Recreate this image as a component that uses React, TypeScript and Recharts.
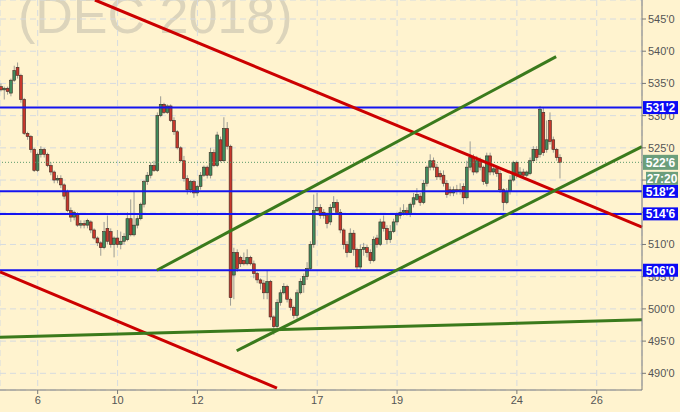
import React from 'react'
import { ComposedChart, Bar, XAxis, YAxis, CartesianGrid, ReferenceLine } from 'recharts'

// hourly bars, [open, high, low, close] in cents
const bars: [number, number, number, number][] = [
  [534.5, 535.0, 533.75, 534.0], [534.0, 534.5, 532.5, 534.25], [534.25, 534.5, 533.25, 533.75],
  [533.5, 535.75, 533.0, 535.5], [535.5, 537.75, 535.25, 537.0], [537.5, 538.25, 535.75, 536.25],
  [536.25, 536.5, 532.0, 532.5], [532.5, 532.75, 527.0, 527.25], [527.25, 527.5, 526.25, 526.75],
  [526.75, 527.0, 524.25, 524.75], [524.75, 525.0, 521.25, 521.5], [521.5, 524.25, 521.25, 524.0],
  [524.0, 525.25, 523.5, 524.75], [524.75, 525.0, 523.5, 524.0], [524.0, 524.25, 522.0, 522.25],
  [522.25, 522.75, 520.75, 521.25], [521.25, 521.5, 519.5, 520.0], [520.0, 520.75, 519.5, 520.25],
  [520.25, 520.75, 518.75, 519.25], [519.25, 519.5, 517.0, 517.5], [518.25, 518.5, 515.0, 515.25],
  [515.25, 515.75, 513.5, 514.25], [514.25, 515.25, 513.75, 515.0], [514.75, 515.0, 512.75, 513.0],
  [513.0, 513.75, 512.5, 513.25], [513.25, 513.75, 512.5, 513.0], [513.0, 514.0, 512.5, 513.75],
  [513.5, 513.75, 511.75, 512.25], [512.25, 512.5, 510.75, 511.0], [511.0, 511.25, 509.75, 510.25],
  [510.25, 510.5, 508.25, 509.5], [509.5, 513.5, 509.25, 512.0], [512.5, 514.5, 510.0, 510.5],
  [512.0, 512.5, 509.5, 510.0], [510.0, 511.25, 508.0, 511.0], [511.0, 512.25, 509.5, 510.0],
  [510.0, 512.0, 509.25, 510.5], [510.5, 511.75, 510.0, 511.25], [510.75, 515.0, 510.5, 514.0],
  [514.0, 517.0, 511.25, 511.5], [511.5, 518.25, 511.25, 513.0], [513.0, 514.5, 512.5, 514.0],
  [514.0, 516.5, 513.75, 516.25], [516.25, 520.0, 515.75, 519.75], [519.75, 521.25, 519.25, 520.75],
  [520.75, 522.75, 520.25, 522.25], [522.25, 523.0, 521.25, 521.5], [521.5, 530.5, 521.25, 530.0],
  [530.0, 533.0, 529.75, 531.75], [531.75, 532.0, 530.25, 530.5], [530.5, 531.75, 530.25, 531.5],
  [531.5, 531.75, 529.0, 529.25], [529.25, 529.75, 527.0, 527.5], [527.5, 527.75, 524.75, 525.0],
  [525.0, 525.25, 522.75, 523.0], [523.0, 523.75, 519.75, 520.25], [520.25, 520.75, 517.75, 518.5],
  [518.5, 520.0, 518.0, 519.75], [519.75, 520.0, 517.25, 518.0], [518.0, 519.25, 517.5, 519.0],
  [519.0, 521.25, 518.5, 520.75], [520.75, 522.25, 520.5, 522.0], [522.0, 522.25, 520.25, 520.75],
  [520.75, 525.0, 520.25, 524.25], [524.25, 524.75, 522.0, 522.25], [522.25, 527.5, 522.0, 527.0],
  [526.25, 526.75, 522.75, 523.0], [523.0, 529.75, 522.75, 528.0], [528.0, 529.0, 524.75, 525.25],
  [525.25, 525.5, 500.5, 501.75], [505.25, 509.5, 501.5, 508.75], [508.75, 509.25, 505.75, 506.25],
  [508.0, 508.25, 506.5, 507.0], [507.5, 508.75, 506.75, 507.0], [507.0, 509.25, 506.75, 508.0],
  [508.0, 508.25, 506.75, 507.0], [507.0, 507.5, 504.75, 505.5], [505.5, 505.75, 504.0, 504.5],
  [504.5, 504.75, 503.0, 504.0], [504.0, 504.5, 501.5, 502.5], [502.5, 506.0, 501.5, 504.25],
  [504.25, 504.5, 498.25, 498.75], [498.75, 499.0, 496.0, 497.25], [497.25, 501.5, 496.75, 501.0],
  [501.0, 503.0, 500.5, 502.5], [502.5, 504.0, 502.25, 503.5], [503.5, 503.75, 501.0, 501.5],
  [501.5, 501.75, 499.75, 500.25], [500.25, 500.5, 498.5, 499.0], [499.0, 503.0, 498.5, 502.5],
  [502.5, 504.75, 502.25, 504.25], [503.75, 505.5, 502.5, 505.0], [505.0, 507.25, 504.5, 506.25],
  [506.25, 510.5, 506.0, 510.0], [510.0, 517.75, 509.5, 515.25], [515.25, 518.0, 515.0, 515.75],
  [515.75, 516.25, 514.0, 514.5], [515.0, 515.5, 514.0, 514.5], [514.5, 515.0, 512.5, 513.25],
  [513.5, 516.25, 513.0, 515.75], [515.75, 517.5, 515.25, 516.5], [516.5, 517.0, 514.75, 515.0],
  [515.0, 515.5, 511.75, 512.25], [512.25, 512.5, 509.25, 510.0], [510.0, 510.5, 508.0, 508.75],
  [508.75, 512.5, 508.75, 511.75], [511.75, 512.25, 508.25, 509.25], [509.25, 509.5, 506.0, 506.5],
  [506.5, 510.0, 506.0, 509.25], [509.25, 510.25, 508.25, 509.5], [509.5, 510.0, 508.0, 508.75],
  [508.75, 509.25, 507.0, 507.5], [507.5, 511.25, 507.25, 510.75], [511.0, 511.5, 509.5, 510.0],
  [510.0, 514.0, 509.75, 513.5], [513.5, 514.5, 512.0, 512.5], [512.5, 513.0, 510.0, 510.75],
  [510.75, 513.0, 510.25, 512.0], [512.0, 514.0, 511.75, 513.5], [513.5, 515.0, 513.0, 514.5],
  [514.5, 515.75, 514.0, 515.0], [515.0, 516.25, 514.5, 515.25], [515.25, 515.75, 514.5, 514.75],
  [514.75, 516.5, 514.25, 516.25], [516.25, 518.0, 515.75, 517.25], [517.0, 518.75, 516.75, 517.75],
  [517.5, 518.0, 516.0, 516.5], [516.5, 520.0, 516.25, 519.5], [519.5, 522.25, 519.0, 522.0],
  [522.0, 524.0, 521.5, 523.0], [523.0, 523.5, 521.5, 522.0], [522.0, 522.5, 520.0, 520.5],
  [521.0, 521.5, 520.0, 520.5], [520.75, 521.5, 519.0, 519.5], [519.5, 520.0, 517.25, 517.75],
  [518.5, 519.0, 517.5, 518.0], [518.0, 519.0, 517.5, 518.5], [518.5, 519.25, 517.75, 518.25],
  [518.25, 519.5, 517.75, 518.5], [519.0, 519.5, 516.25, 517.25], [517.25, 523.0, 517.0, 522.0],
  [522.0, 526.0, 521.5, 523.5], [523.5, 524.0, 520.75, 521.25], [521.25, 523.75, 521.0, 523.0],
  [523.0, 523.5, 521.5, 522.0], [522.0, 522.25, 519.25, 519.75], [519.5, 524.25, 519.0, 523.75],
  [523.75, 524.25, 520.75, 521.25], [521.25, 522.25, 520.75, 521.75], [521.75, 522.25, 520.5, 521.0],
  [521.0, 521.5, 518.0, 518.5], [518.5, 518.75, 515.25, 516.5], [516.5, 518.75, 516.25, 518.25],
  [518.25, 520.75, 517.75, 520.0], [520.0, 523.0, 519.75, 522.75], [522.75, 523.0, 520.25, 520.75],
  [520.75, 522.0, 520.5, 521.25], [521.25, 521.75, 520.25, 520.75], [520.75, 521.5, 520.5, 521.25],
  [521.0, 523.5, 520.75, 523.0], [523.0, 525.25, 522.75, 524.75], [524.75, 525.25, 523.0, 523.5],
  [524.0, 531.5, 523.5, 531.0], [530.5, 531.25, 523.75, 524.25], [524.75, 529.25, 524.25, 526.25],
  [529.25, 530.5, 525.5, 526.0], [526.25, 526.75, 524.25, 524.75], [524.75, 525.0, 523.0, 523.5],
  [523.5, 524.0, 520.25, 522.75],
]

const dayTicks = [11, 35, 59, 95, 119, 155, 179]
const dayLabels = ['6', '10', '12', '17', '19', '24', '26']
const priceTicks = [490, 495, 500, 505, 510, 515, 520, 525, 530, 535, 540, 545]
const priceDomain: [number, number] = [487.41, 547.95]

const levels = [531.25, 518.25, 514.75, 506]
const lastPrice = 522.75
const barTimer = '27:20'

// drawn trend lines: [barIndex, price] -> [barIndex, price]
const trendLines = [
  { color: '#cc0000', from: [28.2, 547.95], to: [192.6, 512.7] },
  { color: '#cc0000', from: [-0.33, 505.75], to: [82.9, 487.7] },
  { color: '#3a7a1c', from: [46.8, 506.0], to: [166.8, 539.15] },
  { color: '#3a7a1c', from: [70.8, 493.5], to: [192.6, 525.2] },
  { color: '#3a7a1c', from: [-0.33, 495.6], to: [192.6, 498.3] },
]

const W = 680
const H = 412
const PLOT_H = H - 22

const data = bars.map(([open, high, low, close], i) => ({ i, open, high, low, close, range: [low, high] }))

const eighths = (v: number) => `${Math.floor(v)}'${Math.round((v - Math.floor(v)) * 8)}`
// same linear mapping the y axis uses, for the price tags drawn over the axis
const yOf = (v: number) => ((priceDomain[1] - v) / (priceDomain[1] - priceDomain[0])) * PLOT_H

function Candle(props: any) {
  const { x, y, width, height, payload } = props
  const { open, high, low, close } = payload
  const top = Math.min(y, y + height)
  const h = Math.abs(height)
  const cx = x + width / 2
  const py = (v: number) => top + ((high - v) / (high - low || 1)) * h
  const bTop = py(Math.max(open, close))
  const bBot = py(Math.min(open, close))
  const up = close >= open
  return (
    <g>
      <line x1={cx} x2={cx} y1={top} y2={top + h} stroke="#9c9c94" strokeWidth={1} />
      <rect
        x={cx - 1.4}
        y={bTop}
        width={2.8}
        height={Math.max(bBot - bTop, 1)}
        fill={up ? '#3f8c5e' : '#c8372c'}
        stroke="#3b2a22"
        strokeWidth={0.6}
      />
    </g>
  )
}

function Tag({ y, text, fill, x0 = 643, w = 35, h = 13 }: any) {
  return (
    <g>
      <rect x={x0} y={y - h / 2} width={w} height={h} fill={fill} />
      <text x={x0 + w / 2} y={y + 4.5} textAnchor="middle" fill="#fff" fontSize={12} fontWeight="bold">
        {text}
      </text>
    </g>
  )
}

export default function App() {
  const lastY = yOf(lastPrice)
  return (
    <div style={{ position: 'absolute', left: 0, top: 0, width: W, height: H, background: '#fff3cf', overflow: 'hidden' }}>
      <svg width={W} height={H} style={{ position: 'absolute', left: 0, top: 0 }}>
        <text x={18} y={33} fontSize={52} fill="#dcd4bb" fontFamily="'Liberation Sans', Arial, sans-serif">
          (DEC 2018)
        </text>
      </svg>
      <div style={{ position: 'absolute', left: 0, top: 0 }}>
        <ComposedChart
          width={W}
          height={H}
          data={data}
          margin={{ top: 0, right: 0, bottom: 0, left: 0 }}
          style={{ fontFamily: "'Liberation Sans', Arial, sans-serif" }}
        >
          <CartesianGrid stroke="#d6dbe0" strokeDasharray="6 4" />
          <XAxis
            dataKey="i"
            type="number"
            domain={[-0.33, 192.6]}
            allowDataOverflow
            ticks={dayTicks}
            interval={0}
            tickFormatter={(v: number) => dayLabels[dayTicks.indexOf(v)]}
            height={22}
            tickSize={4}
            axisLine={{ stroke: '#7a7a7a' }}
            tickLine={{ stroke: '#7a7a7a' }}
            tick={{ fontSize: 11, fill: '#555' }}
          />
          <YAxis
            orientation="right"
            type="number"
            domain={priceDomain}
            allowDataOverflow
            ticks={priceTicks}
            interval={0}
            tickFormatter={(v: number) => eighths(v)}
            width={38}
            tickSize={4}
            axisLine={{ stroke: '#7a7a7a' }}
            tickLine={{ stroke: '#7a7a7a' }}
            tick={{ fontSize: 11, fill: '#555' }}
          />
          <Bar dataKey="range" barSize={3} shape={<Candle />} isAnimationActive={false} />
          <ReferenceLine y={lastPrice} stroke="#5c9a6c" strokeDasharray="1 2" strokeWidth={1} />
          {levels.map((lv) => (
            <ReferenceLine key={lv} y={lv} stroke="#1414f0" strokeWidth={2} />
          ))}
          {trendLines.map((t, k) => (
            <ReferenceLine
              key={k}
              segment={[
                { x: t.from[0], y: t.from[1] },
                { x: t.to[0], y: t.to[1] },
              ]}
              stroke={t.color}
              strokeWidth={3}
              ifOverflow="visible"
            />
          ))}
        </ComposedChart>
      </div>
      <svg
        width={W}
        height={H}
        style={{ position: 'absolute', left: 0, top: 0, pointerEvents: 'none', fontFamily: "'Liberation Sans', Arial, sans-serif" }}
      >
        {levels.map((lv) => (
          <Tag key={lv} y={yOf(lv)} text={eighths(lv)} fill="#0a0af5" />
        ))}
        <Tag y={lastY} text={eighths(lastPrice)} fill="#6b9e7b" h={15} />
        <Tag y={lastY + 16} text={barTimer} fill="#6b9e7b" x0={646} w={32} />
      </svg>
    </div>
  )
}
